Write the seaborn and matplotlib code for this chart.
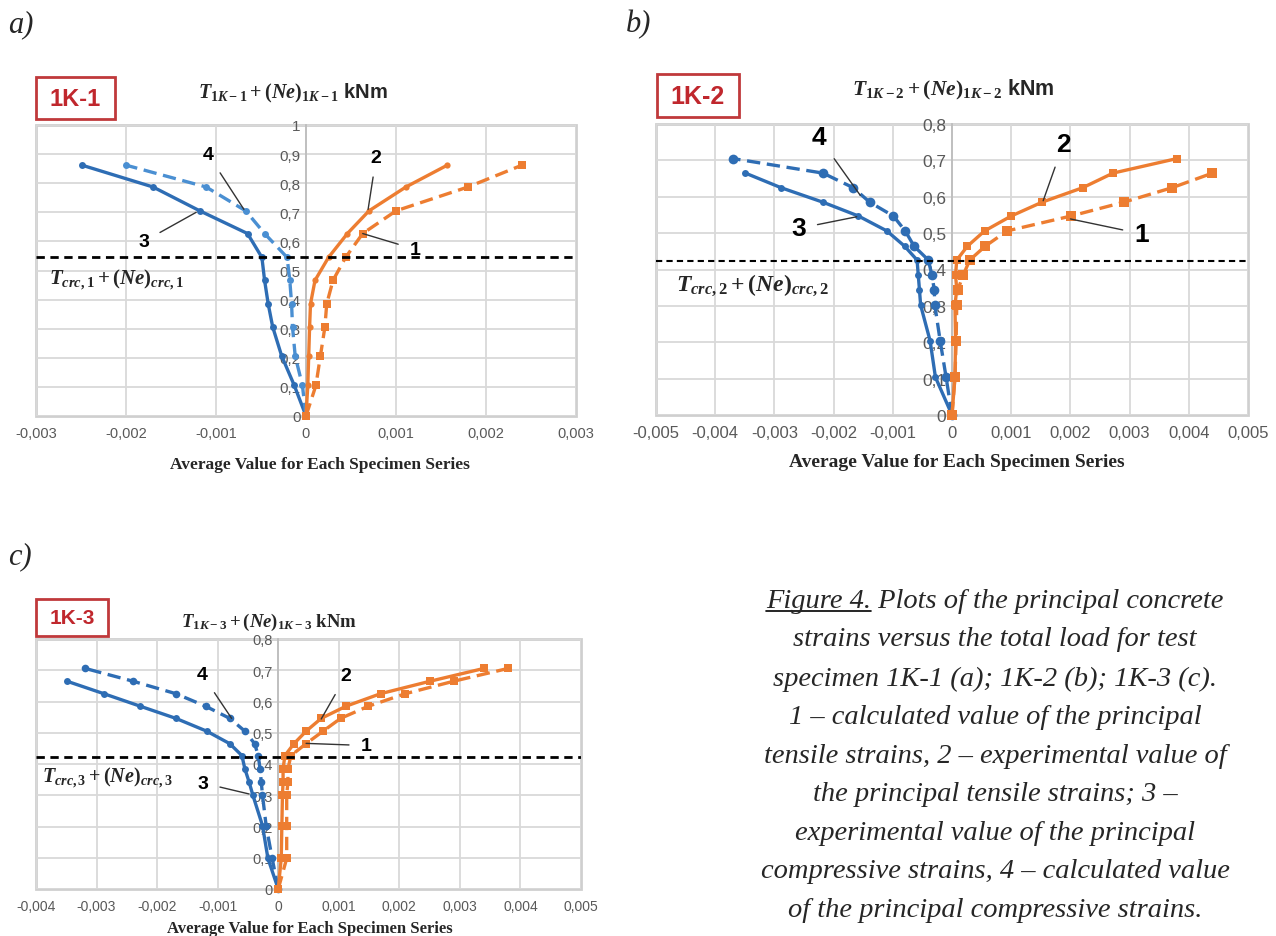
import numpy as np
import pandas as pd
import seaborn as sns
import matplotlib
matplotlib.use("Agg")
import matplotlib.pyplot as plt
from matplotlib.patches import Rectangle
from matplotlib.lines import Line2D
from matplotlib.ticker import FuncFormatter, MultipleLocator

# ---------------- data ----------------
# Panel a (1K-1)
a_load = [0, 0.105, 0.206, 0.306, 0.385, 0.466, 0.545, 0.627, 0.705, 0.787, 0.862]
a_s1 = [0, 0.00011, 0.00016, 0.00021, 0.00023, 0.0003, 0.00044, 0.00063, 0.001, 0.0018, 0.0024]      # calc tensile
a_s2 = [0, 0.00002, 0.00003, 0.00004, 0.00005, 0.0001, 0.00025, 0.00046, 0.0007, 0.00111, 0.00157]   # exp tensile
a_s3 = [0, -0.00013, -0.00027, -0.00037, -0.00042, -0.00046, -0.00049, -0.00065, -0.00118, -0.0017, -0.00249]  # exp compr
a_s4 = [0, -0.00004, -0.00012, -0.00015, -0.00016, -0.00018, -0.00021, -0.00046, -0.00067, -0.00111, -0.002]   # calc compr
a_crc = 0.545

# Panel b (1K-2)
b_load = [0, 0.104, 0.204, 0.302, 0.345, 0.385, 0.426, 0.464, 0.506, 0.547, 0.585, 0.625, 0.665, 0.705]
b_s1 = [0, 0.00005, 0.00007, 0.00008, 0.0001, 0.00019, 0.0003, 0.00056, 0.00093, 0.00201, 0.0029, 0.00372, 0.0044]
b_s2 = [0, 0.00005, 0.00006, 0.00005, 0.00008, 0.00006, 0.00008, 0.00026, 0.00055, 0.001, 0.00152, 0.00221, 0.00272, 0.0038]
b_s3 = [0, -0.00028, -0.00037, -0.00053, -0.00055, -0.00057, -0.00059, -0.0008, -0.0011, -0.00158, -0.00218, -0.00289, -0.00349]
b_s4 = [0, -0.0001, -0.0002, -0.00029, -0.0003, -0.00034, -0.0004, -0.00064, -0.00079, -0.00099, -0.00139, -0.00167, -0.00218, -0.0037]
b_crc = 0.422

# Panel c (1K-3)
c_load = [0, 0.098, 0.203, 0.301, 0.342, 0.384, 0.427, 0.465, 0.505, 0.546, 0.585, 0.625, 0.665, 0.706]
c_s1 = [0, 0.00014, 0.00014, 0.00014, 0.00016, 0.00016, 0.00021, 0.00046, 0.00074, 0.00103, 0.00149, 0.0021, 0.0029, 0.0038]
c_s2 = [0, 0.00005, 0.00006, 0.00007, 0.00008, 0.00008, 0.00011, 0.00026, 0.00046, 0.00071, 0.00112, 0.00169, 0.00251, 0.0034]
c_s3 = [0, -0.00017, -0.00026, -0.00042, -0.00048, -0.00055, -0.0006, -0.0008, -0.00118, -0.00169, -0.00228, -0.00288, -0.00349]
c_s4 = [0, -0.0001, -0.0002, -0.00026, -0.00028, -0.0003, -0.00033, -0.00039, -0.00055, -0.0008, -0.0012, -0.00169, -0.0024, -0.00319]
c_crc = 0.423

# ---------------- style ----------------
sns.set_theme(style="white")
plt.rcParams['font.family'] = ['Liberation Sans', 'DejaVu Sans']
plt.rcParams['mathtext.fontset'] = 'custom'
plt.rcParams['mathtext.rm'] = 'Liberation Serif:bold'
plt.rcParams['mathtext.it'] = 'Liberation Serif:italic:bold'
plt.rcParams['mathtext.bf'] = 'Liberation Serif:bold'

BLUE = '#2E6DB4'
BLUE_L = '#4A8FD2'
ORANGE = '#ED7D31'
GRID = '#d9d9d9'
TICKC = '#595959'
NARROW = ['Liberation Sans Narrow', 'Liberation Sans']

W, H = 1276, 937
fig = plt.figure(figsize=(W / 100, H / 100), dpi=100)


def fx(px):
    return px / W


def fy(py):
    return 1 - py / H


def make_ax(x0, y0, x1, y1):
    return fig.add_axes([fx(x0), fy(y1), (x1 - x0) / W, (y1 - y0) / H])


def fmt(v, _pos=None):
    if abs(v) < 1e-12:
        return '0'
    s = ('%.4f' % v).rstrip('0').rstrip('.')
    return s.replace('.', ',')


def series(ax, xs, ys, color, dashed, marker, ms):
    ls = (0, (4, 2)) if dashed else '-'
    sns.lineplot(x=xs, y=ys[:len(xs)], ax=ax, sort=False, estimator=None,
                 color=color, linestyle=ls, linewidth=2.4, marker=marker,
                 markersize=ms, markeredgewidth=0, clip_on=False, zorder=3)


def setup(ax, xlim, ylim, xstep, tick_fs, ytick_fs):
    ax.set_xlim(*xlim)
    ax.set_ylim(*ylim)
    ax.xaxis.set_major_locator(MultipleLocator(xstep))
    ax.yaxis.set_major_locator(MultipleLocator(0.1))
    ax.xaxis.set_major_formatter(FuncFormatter(fmt))
    ax.yaxis.set_major_formatter(FuncFormatter(fmt))
    ax.grid(True, color=GRID, lw=1.3)
    ax.set_axisbelow(True)
    for s in ['top', 'right', 'bottom']:
        ax.spines[s].set_visible(False)
    ax.spines['left'].set_position(('data', 0))
    ax.spines['left'].set_color('#bdbdbd')
    ax.spines['left'].set_linewidth(1.3)
    ax.patch.set_edgecolor('#cfcfcf')
    ax.patch.set_linewidth(2)
    ax.tick_params(axis='both', length=0, colors=TICKC)
    ax.tick_params(axis='x', labelsize=tick_fs, pad=7)
    ax.tick_params(axis='y', labelsize=ytick_fs, pad=4)
    ax.set_xlabel('')
    ax.set_ylabel('')


def numlabel(ax, txt, xytext, xy, fs):
    ax.annotate(txt, xy=xy, xytext=xytext, textcoords='data', ha='center', va='center',
                fontsize=fs, fontweight='bold', family=NARROW, color='black', zorder=5,
                arrowprops=dict(arrowstyle='-', color='#333333', lw=1.0, shrinkA=6, shrinkB=0))


def tag(x0, y0, x1, y1, txt, fs):
    fig.add_artist(Rectangle((fx(x0), fy(y1)), (x1 - x0) / W, (y1 - y0) / H,
                             transform=fig.transFigure, fill=False, edgecolor='#C0393B', lw=2))
    fig.text(fx((x0 + x1) / 2), fy((y0 + y1) / 2), txt, ha='center', va='center',
             fontsize=fs, fontweight='bold', family=NARROW, color='#C0272D')


# ---------------- panel a ----------------
axa = make_ax(36, 126, 576, 417)
series(axa, a_s3, a_load, BLUE, False, 'o', 5)
series(axa, a_s4, a_load, BLUE_L, True, 'o', 5)
series(axa, a_s2, a_load, ORANGE, False, 'o', 4.5)
series(axa, a_s1, a_load, ORANGE, True, 's', 5.5)
axa.axhline(a_crc, color='black', ls=(0, (3, 2)), lw=2, zorder=4)
setup(axa, (-0.003, 0.003), (0, 1), 0.001, 10.5, 11)
numlabel(axa, '4', (-0.00109, 0.90), (-0.00069, 0.71), 14)
numlabel(axa, '3', (-0.00180, 0.60), (-0.00122, 0.70), 14)
numlabel(axa, '2', (0.00078, 0.89), (0.00069, 0.71), 14)
numlabel(axa, '1', (0.00121, 0.573), (0.00063, 0.627), 14)
axa.text(-0.00286, 0.47, r'$T_{crc,1}+(Ne)_{crc,1}$', fontsize=15, va='center', ha='left')

# ---------------- panel b ----------------
axb = make_ax(656, 125, 1248, 416)
series(axb, b_s3, b_load, BLUE, False, 'o', 5)
series(axb, b_s4, b_load, BLUE, True, 'o', 7)
series(axb, b_s2, b_load, ORANGE, False, 's', 6)
series(axb, b_s1, b_load, ORANGE, True, 's', 6.5)
axb.axhline(b_crc, color='black', ls=(0, (3, 2)), lw=1.5, zorder=4)
setup(axb, (-0.005, 0.005), (0, 0.8), 0.001, 12, 12.5)
numlabel(axb, '4', (-0.00225, 0.764), (-0.00155, 0.604), 19)
numlabel(axb, '3', (-0.00259, 0.513), (-0.00161, 0.545), 19)
numlabel(axb, '2', (0.00188, 0.745), (0.00154, 0.589), 19)
numlabel(axb, '1', (0.00320, 0.498), (0.00200, 0.539), 19)
axb.text(-0.00467, 0.36, r'$T_{crc,2}+(Ne)_{crc,2}$', fontsize=17, va='center', ha='left')

# ---------------- panel c ----------------
axc = make_ax(36, 640, 581, 890)
series(axc, c_s3, c_load, BLUE, False, 'o', 5)
series(axc, c_s4, c_load, BLUE, True, 'o', 5.5)
series(axc, c_s2, c_load, ORANGE, False, 's', 5.5)
series(axc, c_s1, c_load, ORANGE, True, 's', 6)
axc.axhline(c_crc, color='black', ls=(0, (3, 2)), lw=2, zorder=4)
setup(axc, (-0.004, 0.005), (0, 0.8), 0.001, 10, 10.5)
numlabel(axc, '4', (-0.00126, 0.688), (-0.00077, 0.546), 14)
numlabel(axc, '3', (-0.00124, 0.339), (-0.00048, 0.304), 14)
numlabel(axc, '2', (0.00112, 0.683), (0.00071, 0.544), 14)
numlabel(axc, '1', (0.00145, 0.459), (0.00046, 0.466), 14)
axc.text(-0.00390, 0.36, r'$T_{crc,3}+(Ne)_{crc,3}$', fontsize=14.5, va='center', ha='left')

# ---------------- titles, x labels, tags ----------------
fig.text(fx(198), fy(93), r'$T_{1K-1}+(Ne)_{1K-1}$ kNm', fontsize=14.5,
         fontweight='bold', ha='left', va='center')
fig.text(fx(852), fy(90), r'$T_{1K-2}+(Ne)_{1K-2}$ kNm', fontsize=15.5,
         fontweight='bold', ha='left', va='center')
fig.text(fx(181), fy(622), r'$T_{1K-3}+(Ne)_{1K-3}$ kNm', fontsize=13.5,
         fontweight='bold', ha='left', va='center', family=['Liberation Serif'])

xl = 'Average Value for Each Specimen Series'
fig.text(fx(320), fy(465), xl, fontsize=12.5, fontweight='bold', family=['Liberation Serif'],
         ha='center', va='center')
fig.text(fx(957), fy(463), xl, fontsize=14, fontweight='bold', family=['Liberation Serif'],
         ha='center', va='center')
fig.text(fx(310), fy(929), xl, fontsize=12, fontweight='bold', family=['Liberation Serif'],
         ha='center', va='center')

tag(36, 78, 115, 120, '1K-1', 17)
tag(657, 75, 739, 118, '1K-2', 18)
tag(36, 600, 108, 637, '1K-3', 15)

for txt, x, y in [('a)', 8, 25), ('b)', 626, 25), ('c)', 8, 557)]:
    fig.text(fx(x), fy(y), txt, fontsize=22, style='italic', family=['Liberation Serif'],
             ha='left', va='center')

# ---------------- caption ----------------
cap = ['Figure 4. Plots of the principal concrete',
       'strains versus the total load for test',
       'specimen 1K-1 (a); 1K-2 (b); 1K-3 (c).',
       '1 \u2013 calculated value of the principal',
       'tensile strains, 2 \u2013 experimental value of',
       'the principal tensile strains; 3 \u2013',
       'experimental value of the principal',
       'compressive strains, 4 \u2013 calculated value',
       'of the principal compressive strains.']
cx = 995
ys = [601, 640, 679, 718, 757, 795, 834, 872, 911]
cap_kw = dict(fontsize=20.5, style='italic', family=['Liberation Serif'], va='center')
t0 = fig.text(fx(cx), fy(ys[0]), cap[0], ha='center', **cap_kw)
for line, y in zip(cap[1:], ys[1:]):
    fig.text(fx(cx), fy(y), line, ha='center', **cap_kw)

fig.canvas.draw()
r = fig.canvas.get_renderer()
bb_full = t0.get_window_extent(r)
tmp = fig.text(0, 0, 'Figure 4.', ha='left', **cap_kw)
bb_part = tmp.get_window_extent(r)
tmp.remove()
ux0 = bb_full.x0 / W
ux1 = (bb_full.x0 + bb_part.width) / W
uy = (bb_full.y0 + 2) / H
fig.add_artist(Line2D([ux0, ux1], [uy, uy], transform=fig.transFigure, color='black', lw=1.2))

fig.savefig('out.png', dpi=100, facecolor='white')
